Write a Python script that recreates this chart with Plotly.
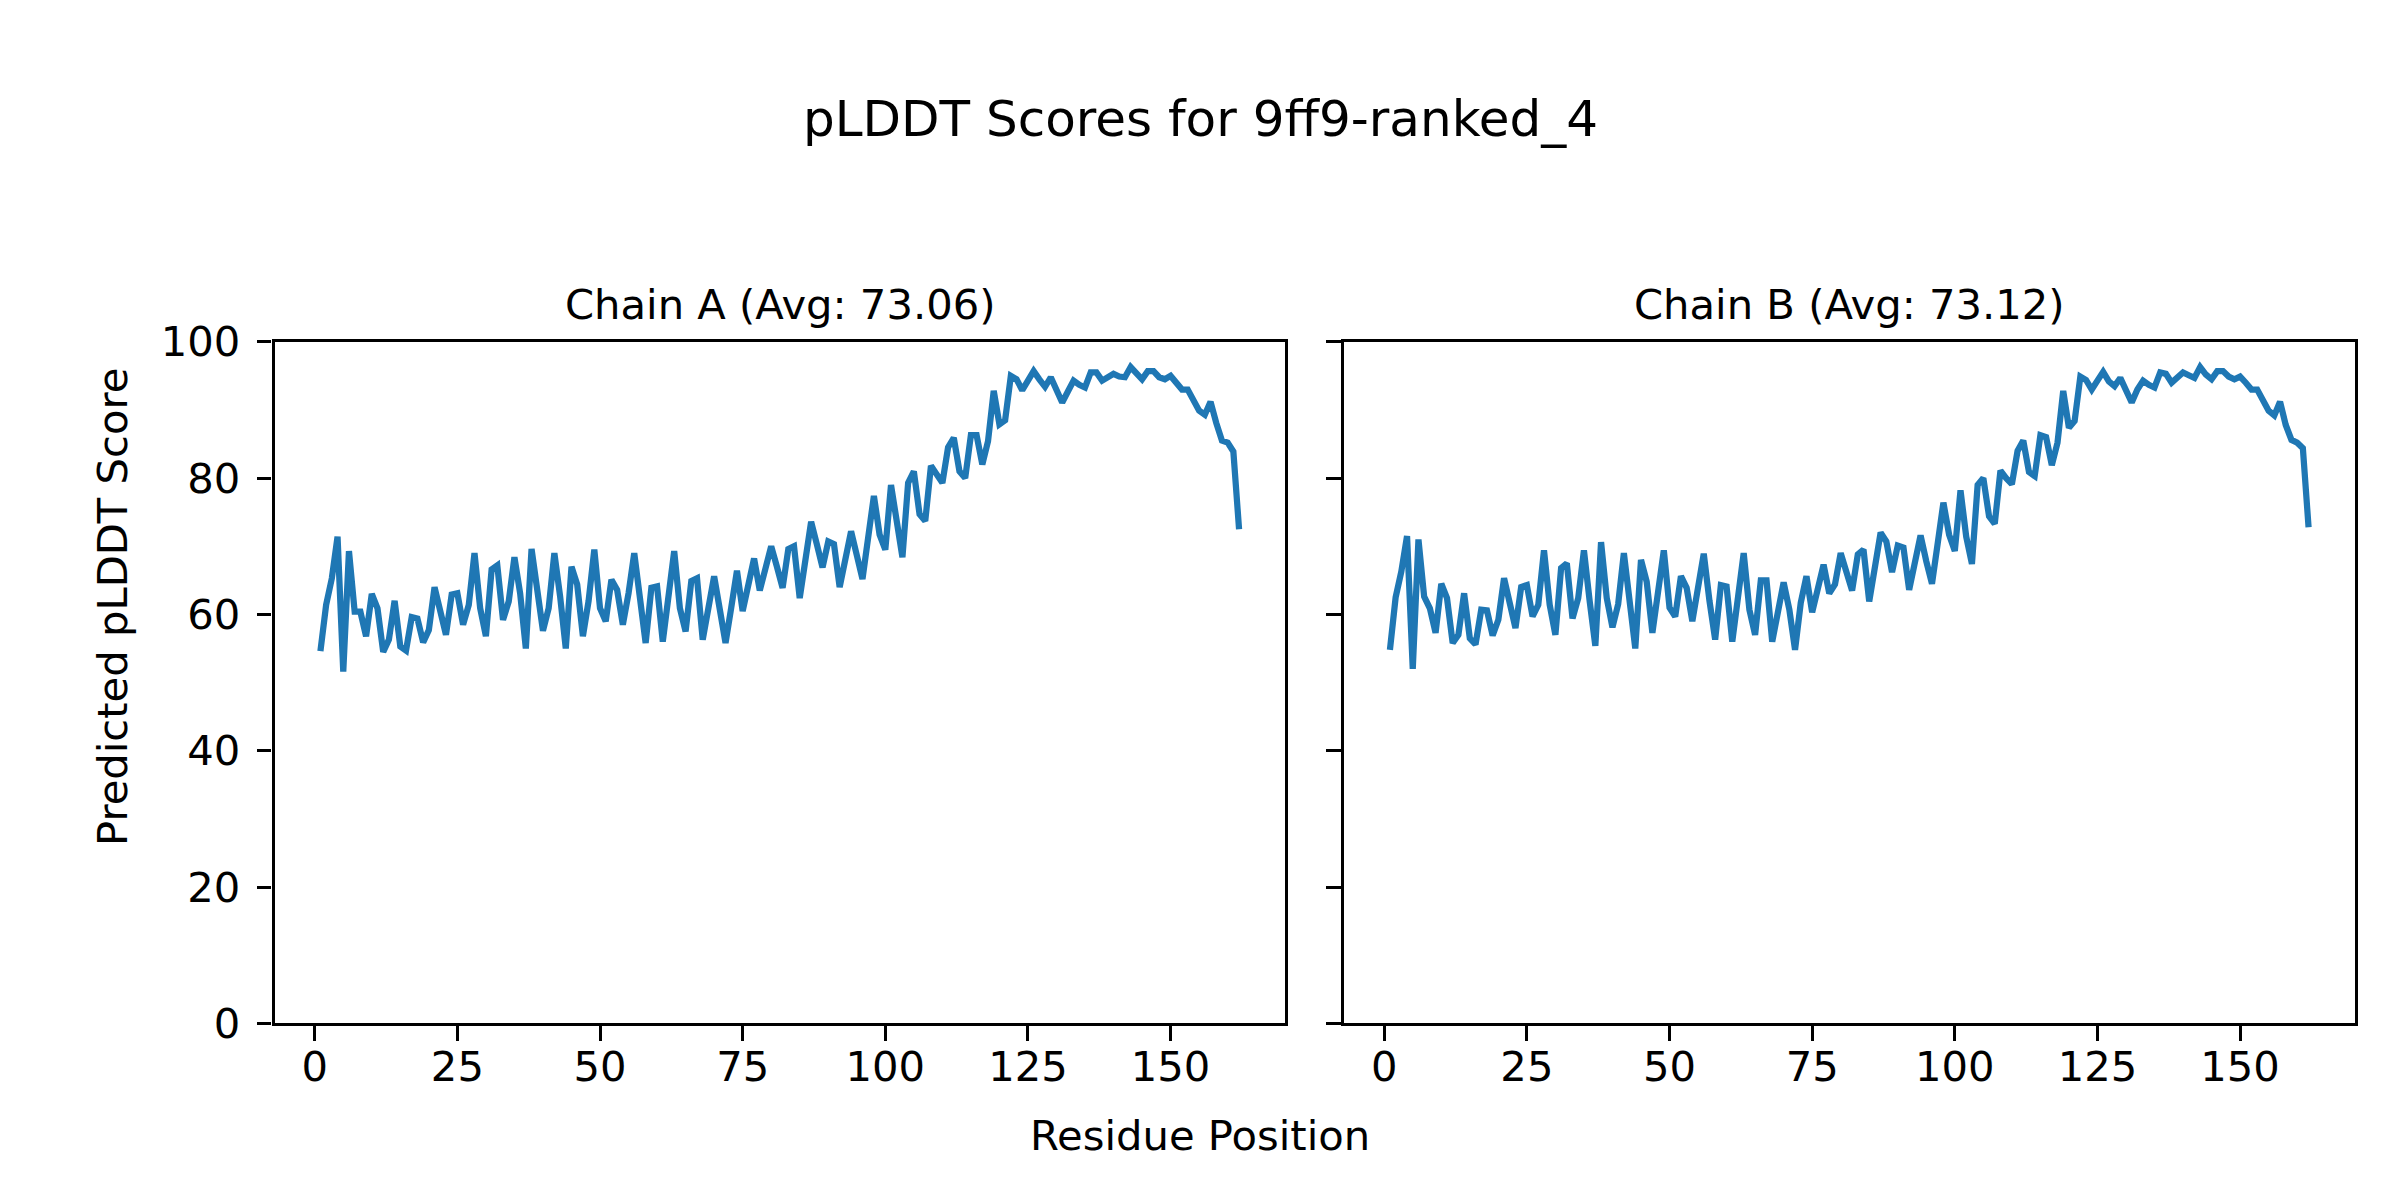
import plotly.graph_objects as go

residues = list(range(1, 163))

chain_a_plddt = [
    54.6, 61.4, 65.3, 71.4, 51.6, 69.3, 60.4, 60.4, 56.8, 63.0,
    60.9, 54.5, 56.3, 62.0, 55.3, 54.7, 59.6, 59.4, 55.9, 57.7,
    64.0, 60.0, 57.0, 62.9, 63.1, 58.5, 61.4, 69.0, 60.9, 56.8,
    66.6, 67.2, 59.2, 61.9, 68.4, 63.1, 55.0, 69.6, 62.9, 57.6,
    60.9, 69.0, 62.7, 55.0, 67.0, 64.4, 56.8, 62.0, 69.5, 60.9,
    59.0, 65.1, 63.6, 58.5, 63.1, 69.0, 62.4, 55.8, 63.9, 64.1,
    56.0, 62.6, 69.3, 60.9, 57.5, 64.9, 65.3, 56.3, 60.9, 65.6,
    60.7, 55.8, 61.0, 66.4, 60.5, 64.3, 68.2, 63.5, 66.6, 70.0,
    67.0, 63.9, 69.6, 70.0, 62.4, 68.1, 73.6, 70.3, 66.9, 70.7,
    70.3, 64.0, 68.1, 72.2, 68.7, 65.2, 71.3, 77.4, 71.7, 69.5,
    79.0, 73.7, 68.4, 79.3, 81.0, 74.7, 73.7, 81.8, 80.5, 79.3,
    84.5, 85.9, 81.0, 80.0, 86.3, 86.3, 82.0, 85.4, 92.8, 87.9,
    88.5, 95.0, 94.5, 92.9, 94.3, 95.7, 94.5, 93.4, 94.8, 92.9,
    91.1, 92.7, 94.3, 93.7, 93.3, 95.5, 95.5, 94.3, 94.9, 95.3,
    94.9, 94.8, 96.3, 95.3, 94.5, 95.7, 95.7, 94.8, 94.5, 95.0,
    94.0, 93.0, 93.0, 91.6, 89.9, 89.3, 91.2, 88.1, 85.5, 85.2,
    83.9, 72.5,
]

chain_b_plddt = [
    54.8, 62.5, 66.3, 71.5, 52.0, 71.0, 62.6, 60.9, 57.3, 64.5,
    62.4, 55.8, 57.0, 63.1, 56.5, 55.6, 60.7, 60.6, 56.9, 59.2,
    65.3, 61.2, 58.0, 64.0, 64.3, 59.7, 61.4, 69.4, 61.4, 57.0,
    66.8, 67.5, 59.4, 62.4, 69.4, 62.0, 55.4, 70.6, 62.4, 58.1,
    61.5, 69.0, 62.3, 55.0, 68.0, 64.8, 57.3, 63.1, 69.4, 61.0,
    59.7, 65.6, 63.9, 59.0, 64.1, 68.9, 62.0, 56.3, 64.3, 64.1,
    56.0, 62.5, 69.0, 60.7, 57.0, 65.0, 65.0, 56.0, 60.6, 64.7,
    60.7, 54.8, 61.7, 65.6, 60.3, 63.9, 67.3, 63.1, 64.4, 69.0,
    66.3, 63.5, 68.8, 69.5, 61.9, 67.0, 72.0, 70.7, 66.2, 70.1,
    69.8, 63.6, 67.9, 71.6, 67.8, 64.5, 70.4, 76.4, 71.7, 69.3,
    78.2, 71.4, 67.4, 79.0, 80.0, 74.4, 73.3, 81.1, 80.0, 79.1,
    84.0, 85.5, 80.9, 80.3, 86.3, 86.0, 81.9, 85.2, 92.8, 87.4,
    88.4, 94.9, 94.4, 93.0, 94.3, 95.6, 94.2, 93.5, 94.7, 92.8,
    91.1, 93.0, 94.3, 93.7, 93.3, 95.5, 95.3, 94.0, 94.9, 95.5,
    95.1, 94.7, 96.3, 95.2, 94.5, 95.7, 95.7, 94.9, 94.5, 94.9,
    94.0, 93.0, 93.0, 91.4, 89.9, 89.2, 91.2, 87.8, 85.6, 85.2,
    84.4, 72.8,
]

chain_titles = ["Chain A (Avg: 73.06)", "Chain B (Avg: 73.12)"]
suptitle = "pLDDT Scores for 9ff9-ranked_4"
x_label = "Residue Position"
y_label = "Predicted pLDDT Score"
x_ticks = [0, 25, 50, 75, 100, 125, 150]
y_ticks = [0, 20, 40, 60, 80, 100]

W, H = 2400, 1200
FONT = "DejaVu Sans"
FS = 41.7
LINE_COLOR = "#1f77b4"

# panel geometry (pixels)
A_L, A_R = 266.5, 1277
B_L, B_R = 1336, 2346.5
P_T, P_B = 323, 1033.5

fig = go.Figure()
fig.add_trace(go.Scatter(x=residues, y=chain_a_plddt, mode="lines",
                         line=dict(color=LINE_COLOR, width=6.25),
                         xaxis="x", yaxis="y", showlegend=False))
fig.add_trace(go.Scatter(x=residues, y=chain_b_plddt, mode="lines",
                         line=dict(color=LINE_COLOR, width=6.25),
                         xaxis="x2", yaxis="y2", showlegend=False))

pad = 0.05 * (max(residues) - min(residues))
xr = [min(residues) - pad, max(residues) + pad]

def px_x(p):
    return p / W

def px_y(p):
    return 1 - p / H

ax_common = dict(
    showline=True, linecolor="black", linewidth=3.33, mirror=True,
    ticks="outside", ticklen=14.6, tickwidth=3.33, tickcolor="black",
    showgrid=False, zeroline=False,
)
tfont = dict(family=FONT, size=FS, color="black")

ydom = [px_y(P_B), px_y(P_T)]
fig.update_layout(
    width=W, height=H,
    margin=dict(l=0, r=0, t=0, b=0),
    paper_bgcolor="white", plot_bgcolor="white",
    font=dict(family=FONT, size=FS, color="black"),
    xaxis=dict(domain=[px_x(A_L), px_x(A_R)], range=xr, tickvals=x_ticks,
               anchor="y", tickfont=tfont, ticklabelstandoff=-10, **ax_common),
    yaxis=dict(domain=ydom, range=[0, 100], tickvals=y_ticks, anchor="x",
               tickfont=tfont, ticklabelstandoff=8, **ax_common),
    xaxis2=dict(domain=[px_x(B_L), px_x(B_R)], range=xr, tickvals=x_ticks,
                anchor="y2", tickfont=tfont, ticklabelstandoff=-10, **ax_common),
    yaxis2=dict(domain=ydom, range=[0, 100], tickvals=y_ticks, anchor="x2",
                showticklabels=False, **ax_common),
)

annotations = [
    dict(text=suptitle, x=0.4968, y=px_y(91), xref="paper", yref="paper",
         xanchor="center", yanchor="middle", showarrow=False,
         font=dict(family=FONT, size=50, color="black")),
    dict(text=chain_titles[0], x=px_x((A_L + A_R) / 2), y=px_y(284),
         xref="paper", yref="paper", xanchor="center", yanchor="middle",
         showarrow=False, font=tfont),
    dict(text=chain_titles[1], x=px_x((B_L + B_R) / 2), y=px_y(284),
         xref="paper", yref="paper", xanchor="center", yanchor="middle",
         showarrow=False, font=tfont),
    dict(text=x_label, x=0.4965, y=px_y(1150), xref="paper", yref="paper",
         xanchor="center", yanchor="middle", showarrow=False, font=tfont),
    dict(text=y_label, x=px_x(104.5), y=0.5, xref="paper",
         yref="paper", xanchor="center", yanchor="middle", textangle=-90,
         showarrow=False, font=tfont),
]
fig.update_layout(annotations=annotations)

fig.write_html("out.html")
